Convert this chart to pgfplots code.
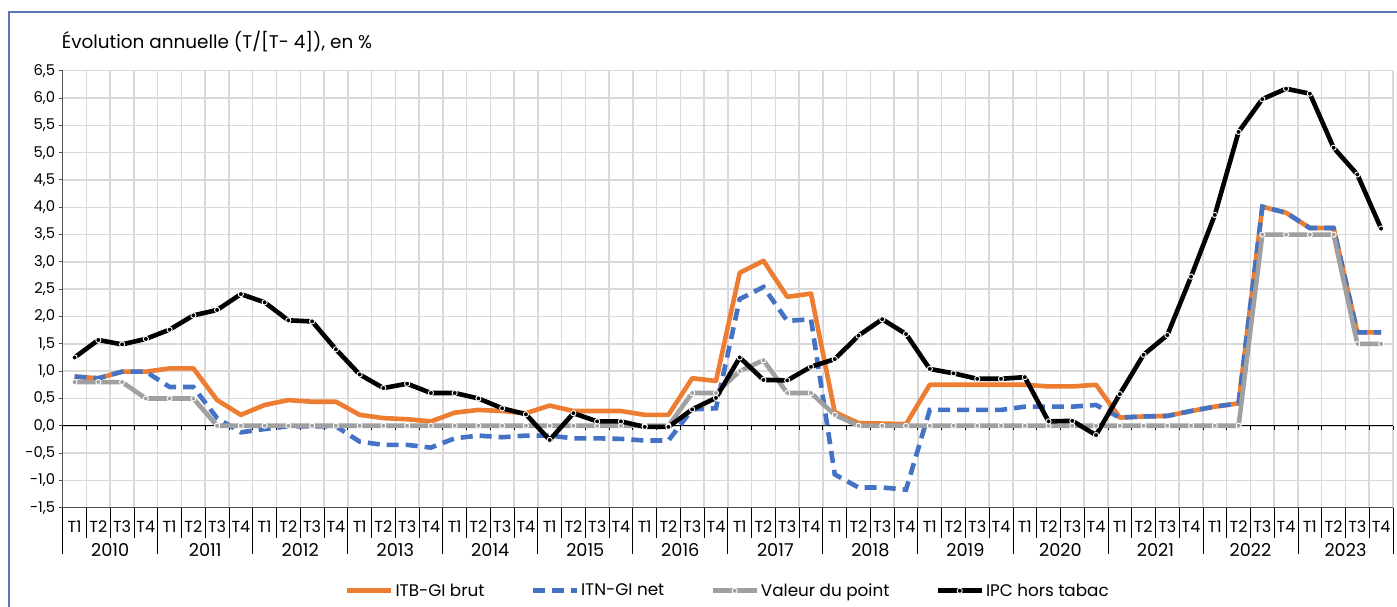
\documentclass[border=0pt]{standalone}
\usepackage{pgfplots}
\usepackage{pgfplotstable}
\pgfplotsset{compat=1.18}
\usepackage{fontspec}
\setmainfont{Poppins}
\definecolor{cOrange}{HTML}{ED7D31}
\definecolor{cBlue}{HTML}{4472C4}
\definecolor{cGray}{HTML}{A0A0A0}
\definecolor{cGrid}{HTML}{D9D9D9}
\definecolor{cFrame}{HTML}{5B77B6}
\definecolor{cAxis}{HTML}{505050}

\pgfplotstableread{
x    itb   itn    vp    ipc
0.5  0.90  0.90   0.80  1.25
1.5  0.87  0.87   0.80  1.57
2.5  0.99  0.99   0.80  1.49
3.5  0.99  0.99   0.50  1.59
4.5  1.05  0.71   0.50  1.76
5.5  1.05  0.71   0.50  2.02
6.5  0.47  0.14   0.00  2.12
7.5  0.20  -0.12  0.00  2.41
8.5  0.38  -0.06  0.00  2.26
9.5  0.47  -0.01  0.00  1.93
10.5 0.44  -0.01  0.00  1.91
11.5 0.44  -0.01  0.00  1.40
12.5 0.20  -0.29  0.00  0.94
13.5 0.14  -0.35  0.00  0.69
14.5 0.12  -0.35  0.00  0.77
15.5 0.08  -0.40  0.00  0.60
16.5 0.24  -0.23  0.00  0.60
17.5 0.29  -0.18  0.00  0.50
18.5 0.27  -0.21  0.00  0.32
19.5 0.23  -0.18  0.00  0.21
20.5 0.37  -0.18  0.00  -0.26
21.5 0.27  -0.23  0.00  0.23
22.5 0.27  -0.23  0.00  0.08
23.5 0.27  -0.24  0.00  0.08
24.5 0.20  -0.27  0.00  -0.02
25.5 0.20  -0.27  0.00  -0.02
26.5 0.87  0.30   0.60  0.30
27.5 0.82  0.32   0.60  0.51
28.5 2.80  2.32   1.00  1.25
29.5 3.02  2.54   1.20  0.84
30.5 2.36  1.92   0.60  0.83
31.5 2.42  1.95   0.60  1.08
32.5 0.25  -0.89  0.20  1.22
33.5 0.05  -1.13  0.00  1.65
34.5 0.04  -1.13  0.00  1.95
35.5 0.03  -1.17  0.00  1.68
36.5 0.75  0.29   0.00  1.04
37.5 0.75  0.29   0.00  0.96
38.5 0.75  0.29   0.00  0.86
39.5 0.75  0.29   0.00  0.86
40.5 0.75  0.35   0.00  0.89
41.5 0.72  0.35   0.00  0.08
42.5 0.72  0.35   0.00  0.09
43.5 0.75  0.38   0.00  -0.17
44.5 0.15  0.15   0.00  0.58
45.5 0.17  0.17   0.00  1.30
46.5 0.18  0.18   0.00  1.66
47.5 0.27  0.27   0.00  2.73
48.5 0.35  0.35   0.00  3.86
49.5 0.41  0.41   0.00  5.38
50.5 4.01  4.01   3.50  5.98
51.5 3.90  3.90   3.50  6.17
52.5 3.62  3.62   3.50  6.08
53.5 3.62  3.62   3.50  5.09
54.5 1.71  1.71   1.50  4.60
55.5 1.71  1.71   1.50  3.61
}\data

\begin{document}
\begin{tikzpicture}
\path[use as bounding box] (0pt,0pt) rectangle (1397pt,-607pt);
\fill[white] (0pt,0pt) rectangle (1397pt,-607pt);
\draw[cFrame, line width=1.6pt] (9pt,-612pt) -- (9pt,-12pt) -- (1402pt,-12pt);
\node[anchor=base west, inner sep=0pt, font=\fontsize{18.4}{22}\selectfont] at (61.7pt,-48.3pt) {Évolution annuelle (T/[T- 4]), en \%};
\begin{axis}[
  at={(62.7pt,-507.7pt)}, anchor=south west,
  scale only axis, width=1330.3pt, height=437pt,
  xmin=0, xmax=56, ymin=-1.5, ymax=6.5,
  axis x line*=bottom, axis y line*=left,
  axis line style={cAxis, line width=1.5pt, -},
  clip=false,
  xtick={0.5,1.5,...,55.5},
  xticklabels={T1,T2,T3,T4,T1,T2,T3,T4,T1,T2,T3,T4,T1,T2,T3,T4,T1,T2,T3,T4,T1,T2,T3,T4,T1,T2,T3,T4,T1,T2,T3,T4,T1,T2,T3,T4,T1,T2,T3,T4,T1,T2,T3,T4,T1,T2,T3,T4,T1,T2,T3,T4,T1,T2,T3,T4},
  major x tick style={draw=none},
  minor xtick={0,1,...,56},
  minor x tick style={draw=none},
  xminorgrids=true, xmajorgrids=false,
  ytick={-1.5,-1,...,6.5},
  ymajorgrids=true,
  grid style={cGrid, line width=1.5pt},
  minor grid style={cGrid, line width=1.5pt},
  tick align=outside,
  major tick length=4pt,
  major y tick style={cAxis, line width=1pt},
  xticklabel style={anchor=center, yshift=-15.3pt, font=\fontsize{16}{19}\selectfont},
  yticklabel style={font=\fontsize{14.8}{17}\selectfont, /pgf/number format/.cd, fixed, fixed zerofill, precision=1, use comma, assume math mode=true},
  legend columns=4,
  legend style={at={(0.5,-0.19)}, anchor=center, draw=none, fill=none, inner sep=0pt,
    font=\fontsize{16.8}{19}\selectfont,
    /tikz/every even column/.append style={column sep=44pt}},
  legend cell align=left,
  legend image code/.code={\draw[mark repeat=2,mark phase=2,#1] plot coordinates {(0pt,0pt) (22pt,0pt) (44pt,0pt)};},
]
\draw[black, line width=0.9pt] (axis cs:0,0) -- (axis cs:56,0);
\pgfplotsinvokeforeach{0,...,56}{\draw[black, line width=0.8pt] (axis cs:#1,0) -- ++(0pt,-4pt);}
\pgfplotsinvokeforeach{0,...,56}{\draw[black, line width=0.8pt] (axis cs:#1,-1.5) -- ++(0pt,-30.6pt);}
\pgfplotsinvokeforeach{0,4,...,56}{\draw[black, line width=0.8pt] (axis cs:#1,-1.5) -- ++(0pt,-46.5pt);}

\addplot[cOrange, line width=4.6pt, line join=round] table[x=x,y=itb]{\data};
\addlegendentry{ITB-GI brut}
\addplot[cBlue, line width=4.6pt, dash pattern=on 12pt off 7pt] table[x=x,y=itn]{\data};
\addlegendentry{ITN-GI net}
\addplot[cGray, line width=4.6pt, line join=round, mark=*, mark size=2.6pt, mark options={solid, fill=cGray, draw=white, line width=0.9pt}] table[x=x,y=vp]{\data};
\addlegendentry{Valeur du point}
\addplot[black, line width=4.6pt, line join=round, mark=*, mark size=2.6pt, mark options={solid, fill=black, draw=white, line width=0.9pt}] table[x=x,y=ipc]{\data};
\addlegendentry{IPC hors tabac}

\node[font=\fontsize{17.7}{20}\selectfont, yshift=-42.3pt] at (axis cs:2,-1.5) {2010};
\node[font=\fontsize{17.7}{20}\selectfont, yshift=-42.3pt] at (axis cs:6,-1.5) {2011};
\node[font=\fontsize{17.7}{20}\selectfont, yshift=-42.3pt] at (axis cs:10,-1.5) {2012};
\node[font=\fontsize{17.7}{20}\selectfont, yshift=-42.3pt] at (axis cs:14,-1.5) {2013};
\node[font=\fontsize{17.7}{20}\selectfont, yshift=-42.3pt] at (axis cs:18,-1.5) {2014};
\node[font=\fontsize{17.7}{20}\selectfont, yshift=-42.3pt] at (axis cs:22,-1.5) {2015};
\node[font=\fontsize{17.7}{20}\selectfont, yshift=-42.3pt] at (axis cs:26,-1.5) {2016};
\node[font=\fontsize{17.7}{20}\selectfont, yshift=-42.3pt] at (axis cs:30,-1.5) {2017};
\node[font=\fontsize{17.7}{20}\selectfont, yshift=-42.3pt] at (axis cs:34,-1.5) {2018};
\node[font=\fontsize{17.7}{20}\selectfont, yshift=-42.3pt] at (axis cs:38,-1.5) {2019};
\node[font=\fontsize{17.7}{20}\selectfont, yshift=-42.3pt] at (axis cs:42,-1.5) {2020};
\node[font=\fontsize{17.7}{20}\selectfont, yshift=-42.3pt] at (axis cs:46,-1.5) {2021};
\node[font=\fontsize{17.7}{20}\selectfont, yshift=-42.3pt] at (axis cs:50,-1.5) {2022};
\node[font=\fontsize{17.7}{20}\selectfont, yshift=-42.3pt] at (axis cs:54,-1.5) {2023};
\end{axis}
\end{tikzpicture}
\end{document}
